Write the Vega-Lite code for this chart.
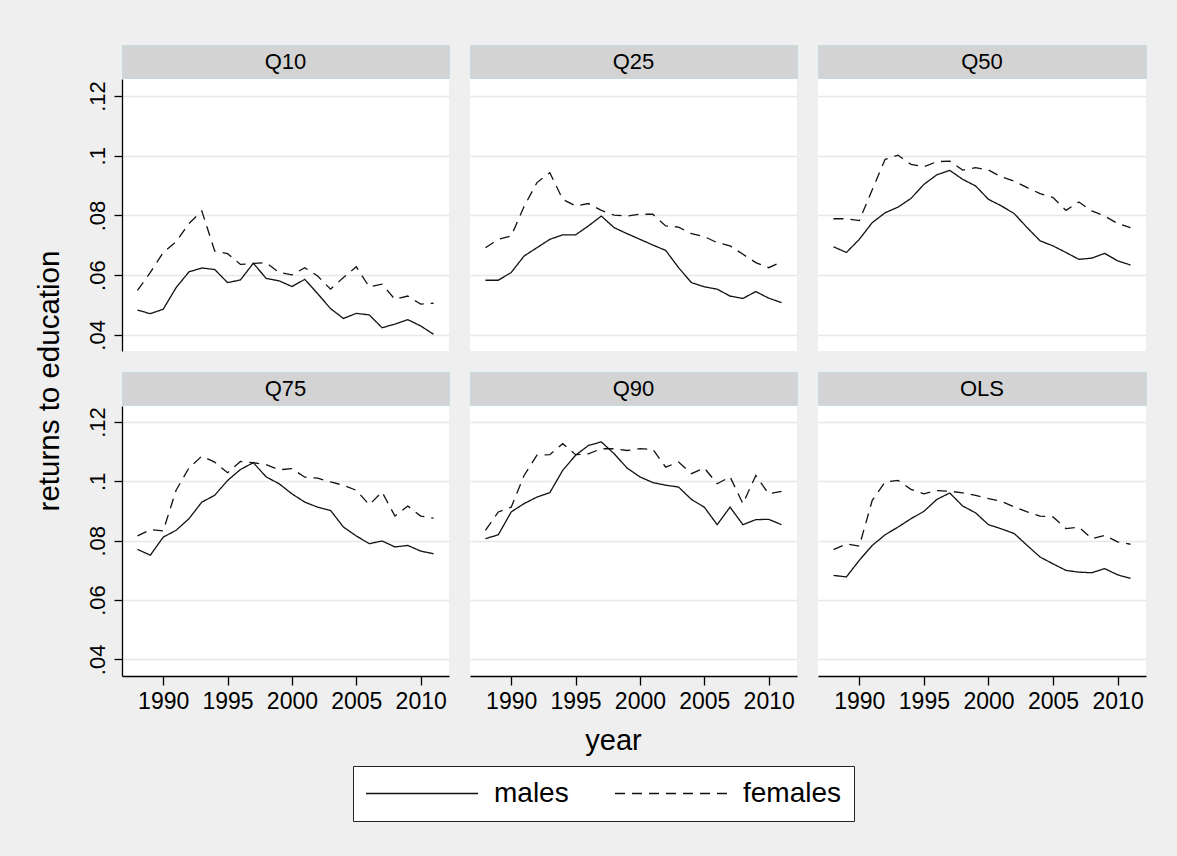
{
  "$schema": "https://vega.github.io/schema/vega-lite/v6.json",
  "background": "#efefef",
  "padding": {"left": 34, "top": 44, "right": 31, "bottom": 35},
  "title": {"text": "returns to education", "orient": "left", "anchor": "middle", "fontSize": 29.5, "fontWeight": "normal", "font": "Liberation Sans", "color": "black", "offset": 21, "dx": 52},
  "datasets": {
    "Q10": [
      {"year":1988,"sex":"males","value":0.0483},{"year":1989,"sex":"males","value":0.0471},{"year":1990,"sex":"males","value":0.0486},{"year":1991,"sex":"males","value":0.0558},{"year":1992,"sex":"males","value":0.0611},{"year":1993,"sex":"males","value":0.0624},{"year":1994,"sex":"males","value":0.0619},{"year":1995,"sex":"males","value":0.0575},{"year":1996,"sex":"males","value":0.0584},{"year":1997,"sex":"males","value":0.0640},{"year":1998,"sex":"males","value":0.0589},{"year":1999,"sex":"males","value":0.0581},{"year":2000,"sex":"males","value":0.0562},{"year":2001,"sex":"males","value":0.0586},{"year":2002,"sex":"males","value":0.0538},{"year":2003,"sex":"males","value":0.0488},{"year":2004,"sex":"males","value":0.0455},{"year":2005,"sex":"males","value":0.0472},{"year":2006,"sex":"males","value":0.0467},{"year":2007,"sex":"males","value":0.0424},{"year":2008,"sex":"males","value":0.0436},{"year":2009,"sex":"males","value":0.0451},{"year":2010,"sex":"males","value":0.0430},{"year":2011,"sex":"males","value":0.0402},
      {"year":1988,"sex":"females","value":0.0549},{"year":1989,"sex":"females","value":0.0609},{"year":1990,"sex":"females","value":0.0676},{"year":1991,"sex":"females","value":0.0712},{"year":1992,"sex":"females","value":0.0773},{"year":1993,"sex":"females","value":0.0815},{"year":1994,"sex":"females","value":0.0681},{"year":1995,"sex":"females","value":0.0672},{"year":1996,"sex":"females","value":0.0636},{"year":1997,"sex":"females","value":0.0639},{"year":1998,"sex":"females","value":0.0642},{"year":1999,"sex":"females","value":0.0609},{"year":2000,"sex":"females","value":0.0601},{"year":2001,"sex":"females","value":0.0625},{"year":2002,"sex":"females","value":0.0597},{"year":2003,"sex":"females","value":0.0553},{"year":2004,"sex":"females","value":0.0592},{"year":2005,"sex":"females","value":0.0628},{"year":2006,"sex":"females","value":0.0561},{"year":2007,"sex":"females","value":0.0570},{"year":2008,"sex":"females","value":0.0519},{"year":2009,"sex":"females","value":0.0530},{"year":2010,"sex":"females","value":0.0503},{"year":2011,"sex":"females","value":0.0506}
    ],
    "Q25": [
      {"year":1988,"sex":"males","value":0.0583},{"year":1989,"sex":"males","value":0.0583},{"year":1990,"sex":"males","value":0.0609},{"year":1991,"sex":"males","value":0.0664},{"year":1992,"sex":"males","value":0.0692},{"year":1993,"sex":"males","value":0.0720},{"year":1994,"sex":"males","value":0.0735},{"year":1995,"sex":"males","value":0.0735},{"year":1996,"sex":"males","value":0.0765},{"year":1997,"sex":"males","value":0.0798},{"year":1998,"sex":"males","value":0.0759},{"year":1999,"sex":"males","value":0.0739},{"year":2000,"sex":"males","value":0.0720},{"year":2001,"sex":"males","value":0.0701},{"year":2002,"sex":"males","value":0.0683},{"year":2003,"sex":"males","value":0.0625},{"year":2004,"sex":"males","value":0.0575},{"year":2005,"sex":"males","value":0.0561},{"year":2006,"sex":"males","value":0.0553},{"year":2007,"sex":"males","value":0.0530},{"year":2008,"sex":"males","value":0.0522},{"year":2009,"sex":"males","value":0.0545},{"year":2010,"sex":"males","value":0.0523},{"year":2011,"sex":"males","value":0.0508},
      {"year":1988,"sex":"females","value":0.0692},{"year":1989,"sex":"females","value":0.0720},{"year":1990,"sex":"females","value":0.0731},{"year":1991,"sex":"females","value":0.0830},{"year":1992,"sex":"females","value":0.0910},{"year":1993,"sex":"females","value":0.0943},{"year":1994,"sex":"females","value":0.0854},{"year":1995,"sex":"females","value":0.0832},{"year":1996,"sex":"females","value":0.0840},{"year":1997,"sex":"females","value":0.0817},{"year":1998,"sex":"females","value":0.0801},{"year":1999,"sex":"females","value":0.0798},{"year":2000,"sex":"females","value":0.0804},{"year":2001,"sex":"females","value":0.0804},{"year":2002,"sex":"females","value":0.0765},{"year":2003,"sex":"females","value":0.0761},{"year":2004,"sex":"females","value":0.0739},{"year":2005,"sex":"females","value":0.0729},{"year":2006,"sex":"females","value":0.0709},{"year":2007,"sex":"females","value":0.0698},{"year":2008,"sex":"females","value":0.0670},{"year":2009,"sex":"females","value":0.0642},{"year":2010,"sex":"females","value":0.0625},{"year":2011,"sex":"females","value":0.0644}
    ],
    "Q50": [
      {"year":1988,"sex":"males","value":0.0695},{"year":1989,"sex":"males","value":0.0676},{"year":1990,"sex":"males","value":0.0720},{"year":1991,"sex":"males","value":0.0776},{"year":1992,"sex":"males","value":0.0809},{"year":1993,"sex":"males","value":0.0828},{"year":1994,"sex":"males","value":0.0857},{"year":1995,"sex":"males","value":0.0904},{"year":1996,"sex":"males","value":0.0936},{"year":1997,"sex":"males","value":0.0951},{"year":1998,"sex":"males","value":0.0921},{"year":1999,"sex":"males","value":0.0899},{"year":2000,"sex":"males","value":0.0854},{"year":2001,"sex":"males","value":0.0832},{"year":2002,"sex":"males","value":0.0806},{"year":2003,"sex":"males","value":0.0759},{"year":2004,"sex":"males","value":0.0715},{"year":2005,"sex":"males","value":0.0698},{"year":2006,"sex":"males","value":0.0676},{"year":2007,"sex":"males","value":0.0653},{"year":2008,"sex":"males","value":0.0657},{"year":2009,"sex":"males","value":0.0673},{"year":2010,"sex":"males","value":0.0648},{"year":2011,"sex":"males","value":0.0634},
      {"year":1988,"sex":"females","value":0.0789},{"year":1989,"sex":"females","value":0.0789},{"year":1990,"sex":"females","value":0.0783},{"year":1991,"sex":"females","value":0.0886},{"year":1992,"sex":"females","value":0.0988},{"year":1993,"sex":"females","value":0.1002},{"year":1994,"sex":"females","value":0.0971},{"year":1995,"sex":"females","value":0.0963},{"year":1996,"sex":"females","value":0.0980},{"year":1997,"sex":"females","value":0.0982},{"year":1998,"sex":"females","value":0.0952},{"year":1999,"sex":"females","value":0.0960},{"year":2000,"sex":"females","value":0.0952},{"year":2001,"sex":"females","value":0.0929},{"year":2002,"sex":"females","value":0.0915},{"year":2003,"sex":"females","value":0.0893},{"year":2004,"sex":"females","value":0.0873},{"year":2005,"sex":"females","value":0.0860},{"year":2006,"sex":"females","value":0.0817},{"year":2007,"sex":"females","value":0.0845},{"year":2008,"sex":"females","value":0.0815},{"year":2009,"sex":"females","value":0.0798},{"year":2010,"sex":"females","value":0.0773},{"year":2011,"sex":"females","value":0.0759}
    ],
    "Q75": [
      {"year":1988,"sex":"males","value":0.0771},{"year":1989,"sex":"males","value":0.0751},{"year":1990,"sex":"males","value":0.0812},{"year":1991,"sex":"males","value":0.0835},{"year":1992,"sex":"males","value":0.0874},{"year":1993,"sex":"males","value":0.0930},{"year":1994,"sex":"males","value":0.0953},{"year":1995,"sex":"males","value":0.1003},{"year":1996,"sex":"males","value":0.1040},{"year":1997,"sex":"males","value":0.1063},{"year":1998,"sex":"males","value":0.1015},{"year":1999,"sex":"males","value":0.0992},{"year":2000,"sex":"males","value":0.0958},{"year":2001,"sex":"males","value":0.0930},{"year":2002,"sex":"males","value":0.0913},{"year":2003,"sex":"males","value":0.0902},{"year":2004,"sex":"males","value":0.0846},{"year":2005,"sex":"males","value":0.0816},{"year":2006,"sex":"males","value":0.0790},{"year":2007,"sex":"males","value":0.0799},{"year":2008,"sex":"males","value":0.0779},{"year":2009,"sex":"males","value":0.0784},{"year":2010,"sex":"males","value":0.0765},{"year":2011,"sex":"males","value":0.0756},
      {"year":1988,"sex":"females","value":0.0816},{"year":1989,"sex":"females","value":0.0837},{"year":1990,"sex":"females","value":0.0833},{"year":1991,"sex":"females","value":0.0970},{"year":1992,"sex":"females","value":0.1045},{"year":1993,"sex":"females","value":0.1085},{"year":1994,"sex":"females","value":0.1065},{"year":1995,"sex":"females","value":0.1029},{"year":1996,"sex":"females","value":0.1067},{"year":1997,"sex":"females","value":0.1063},{"year":1998,"sex":"females","value":0.1056},{"year":1999,"sex":"females","value":0.1039},{"year":2000,"sex":"females","value":0.1043},{"year":2001,"sex":"females","value":0.1014},{"year":2002,"sex":"females","value":0.1011},{"year":2003,"sex":"females","value":0.0998},{"year":2004,"sex":"females","value":0.0987},{"year":2005,"sex":"females","value":0.0970},{"year":2006,"sex":"females","value":0.0921},{"year":2007,"sex":"females","value":0.0964},{"year":2008,"sex":"females","value":0.0883},{"year":2009,"sex":"females","value":0.0917},{"year":2010,"sex":"females","value":0.0883},{"year":2011,"sex":"females","value":0.0876}
    ],
    "Q90": [
      {"year":1988,"sex":"males","value":0.0807},{"year":1989,"sex":"males","value":0.0820},{"year":1990,"sex":"males","value":0.0897},{"year":1991,"sex":"males","value":0.0925},{"year":1992,"sex":"males","value":0.0947},{"year":1993,"sex":"males","value":0.0962},{"year":1994,"sex":"males","value":0.1037},{"year":1995,"sex":"males","value":0.1088},{"year":1996,"sex":"males","value":0.1121},{"year":1997,"sex":"males","value":0.1133},{"year":1998,"sex":"males","value":0.1093},{"year":1999,"sex":"males","value":0.1045},{"year":2000,"sex":"males","value":0.1015},{"year":2001,"sex":"males","value":0.0996},{"year":2002,"sex":"males","value":0.0987},{"year":2003,"sex":"males","value":0.0981},{"year":2004,"sex":"males","value":0.0939},{"year":2005,"sex":"males","value":0.0913},{"year":2006,"sex":"males","value":0.0854},{"year":2007,"sex":"males","value":0.0913},{"year":2008,"sex":"males","value":0.0854},{"year":2009,"sex":"males","value":0.0871},{"year":2010,"sex":"males","value":0.0872},{"year":2011,"sex":"males","value":0.0854},
      {"year":1988,"sex":"females","value":0.0835},{"year":1989,"sex":"females","value":0.0897},{"year":1990,"sex":"females","value":0.0913},{"year":1991,"sex":"females","value":0.1020},{"year":1992,"sex":"females","value":0.1088},{"year":1993,"sex":"females","value":0.1090},{"year":1994,"sex":"females","value":0.1127},{"year":1995,"sex":"females","value":0.1090},{"year":1996,"sex":"females","value":0.1093},{"year":1997,"sex":"females","value":0.1110},{"year":1998,"sex":"females","value":0.1110},{"year":1999,"sex":"females","value":0.1104},{"year":2000,"sex":"females","value":0.1110},{"year":2001,"sex":"females","value":0.1108},{"year":2002,"sex":"females","value":0.1048},{"year":2003,"sex":"females","value":0.1065},{"year":2004,"sex":"females","value":0.1026},{"year":2005,"sex":"females","value":0.1045},{"year":2006,"sex":"females","value":0.0992},{"year":2007,"sex":"females","value":0.1015},{"year":2008,"sex":"females","value":0.0925},{"year":2009,"sex":"females","value":0.1020},{"year":2010,"sex":"females","value":0.0958},{"year":2011,"sex":"females","value":0.0966}
    ],
    "OLS": [
      {"year":1988,"sex":"males","value":0.0683},{"year":1989,"sex":"males","value":0.0678},{"year":1990,"sex":"males","value":0.0734},{"year":1991,"sex":"males","value":0.0784},{"year":1992,"sex":"males","value":0.0820},{"year":1993,"sex":"males","value":0.0846},{"year":1994,"sex":"males","value":0.0874},{"year":1995,"sex":"males","value":0.0899},{"year":1996,"sex":"males","value":0.0939},{"year":1997,"sex":"males","value":0.0961},{"year":1998,"sex":"males","value":0.0917},{"year":1999,"sex":"males","value":0.0894},{"year":2000,"sex":"males","value":0.0854},{"year":2001,"sex":"males","value":0.0840},{"year":2002,"sex":"males","value":0.0824},{"year":2003,"sex":"males","value":0.0784},{"year":2004,"sex":"males","value":0.0745},{"year":2005,"sex":"males","value":0.0722},{"year":2006,"sex":"males","value":0.0700},{"year":2007,"sex":"males","value":0.0694},{"year":2008,"sex":"males","value":0.0692},{"year":2009,"sex":"males","value":0.0706},{"year":2010,"sex":"males","value":0.0685},{"year":2011,"sex":"males","value":0.0673},
      {"year":1988,"sex":"females","value":0.0770},{"year":1989,"sex":"females","value":0.0789},{"year":1990,"sex":"females","value":0.0782},{"year":1991,"sex":"females","value":0.0936},{"year":1992,"sex":"females","value":0.0998},{"year":1993,"sex":"females","value":0.1003},{"year":1994,"sex":"females","value":0.0973},{"year":1995,"sex":"females","value":0.0958},{"year":1996,"sex":"females","value":0.0969},{"year":1997,"sex":"females","value":0.0967},{"year":1998,"sex":"females","value":0.0961},{"year":1999,"sex":"females","value":0.0953},{"year":2000,"sex":"females","value":0.0942},{"year":2001,"sex":"females","value":0.0933},{"year":2002,"sex":"females","value":0.0914},{"year":2003,"sex":"females","value":0.0897},{"year":2004,"sex":"females","value":0.0883},{"year":2005,"sex":"females","value":0.0880},{"year":2006,"sex":"females","value":0.0841},{"year":2007,"sex":"females","value":0.0846},{"year":2008,"sex":"females","value":0.0807},{"year":2009,"sex":"females","value":0.0818},{"year":2010,"sex":"females","value":0.0796},{"year":2011,"sex":"females","value":0.0788}
    ]
  },
  "spacing": 20,
  "vconcat": [
    {
      "spacing": 19,
      "hconcat": [
        {"spacing": 0, "vconcat": [
          {"data": {"values": [{"panel": "Q10"}]}, "width": 327, "height": 33, "view": {"fill": "#d3d3d3", "stroke": "#c4dbe2"}, "mark": {"type": "text", "fontSize": 22, "font": "Liberation Sans", "color": "black"}, "encoding": {"text": {"field": "panel"}}},
          {"data": {"name": "Q10"}, "width": 327, "height": 272, "view": {"fill": "white", "stroke": null},
           "mark": {"type": "line", "color": "#111111", "strokeWidth": 1.3},
           "encoding": {
             "x": {"field": "year", "type": "quantitative", "scale": {"domain": [1986.8, 2012.2], "nice": false, "zero": false}, "axis": null},
             "y": {"field": "value", "type": "quantitative", "scale": {"domain": [0.0346, 0.1257], "nice": false, "zero": false},
                   "axis": {"values": [0.04, 0.06, 0.08, 0.1, 0.12], "labelExpr": "replace(format(datum.value, '.2~f'), '0.', '.')", "labelAngle": 270, "labelFontSize": 22, "labelFont": "Liberation Sans", "labelColor": "black", "domainColor": "black", "domainWidth": 1.3, "tickColor": "black", "tickSize": 8, "tickWidth": 1.3, "labelPadding": 5, "grid": true, "gridColor": "#e8e8e8", "gridWidth": 1.5, "title": null}},
             "strokeDash": {"field": "sex", "type": "nominal", "scale": {"domain": ["males", "females"], "range": [[1, 0], [10, 7]]},
                   "legend": {"orient": "none", "legendX": 231, "legendY": 721, "direction": "horizontal", "title": null, "fillColor": "white", "strokeColor": "#222222", "padding": 12, "symbolType": "stroke", "symbolSize": 12544, "symbolStrokeWidth": 1.6, "symbolStrokeColor": "black", "clipHeight": 31, "labelFontSize": 28, "labelFont": "Liberation Sans", "labelColor": "black", "labelOffset": 15, "columnPadding": 45, "cornerRadius": 0}}
           }}
        ]},
        {"spacing": 0, "vconcat": [
          {"data": {"values": [{"panel": "Q25"}]}, "width": 327, "height": 33, "view": {"fill": "#d3d3d3", "stroke": "#c4dbe2"}, "mark": {"type": "text", "fontSize": 22, "font": "Liberation Sans", "color": "black"}, "encoding": {"text": {"field": "panel"}}},
          {"data": {"name": "Q25"}, "width": 327, "height": 272, "view": {"fill": "white", "stroke": null},
           "mark": {"type": "line", "color": "#111111", "strokeWidth": 1.3},
           "encoding": {
             "x": {"field": "year", "type": "quantitative", "scale": {"domain": [1986.8, 2012.2], "nice": false, "zero": false}, "axis": null},
             "y": {"field": "value", "type": "quantitative", "scale": {"domain": [0.0346, 0.1257], "nice": false, "zero": false},
                   "axis": {"values": [0.04, 0.06, 0.08, 0.1, 0.12], "labels": false, "ticks": false, "domain": false, "grid": true, "gridColor": "#e8e8e8", "gridWidth": 1.5, "title": null}},
             "strokeDash": {"field": "sex", "type": "nominal", "scale": {"domain": ["males", "females"], "range": [[1, 0], [10, 7]]}}
           }}
        ]},
        {"spacing": 0, "vconcat": [
          {"data": {"values": [{"panel": "Q50"}]}, "width": 328, "height": 33, "view": {"fill": "#d3d3d3", "stroke": "#c4dbe2"}, "mark": {"type": "text", "fontSize": 22, "font": "Liberation Sans", "color": "black"}, "encoding": {"text": {"field": "panel"}}},
          {"data": {"name": "Q50"}, "width": 328, "height": 272, "view": {"fill": "white", "stroke": null},
           "mark": {"type": "line", "color": "#111111", "strokeWidth": 1.3},
           "encoding": {
             "x": {"field": "year", "type": "quantitative", "scale": {"domain": [1986.8, 2012.2], "nice": false, "zero": false}, "axis": null},
             "y": {"field": "value", "type": "quantitative", "scale": {"domain": [0.0346, 0.1257], "nice": false, "zero": false},
                   "axis": {"values": [0.04, 0.06, 0.08, 0.1, 0.12], "labels": false, "ticks": false, "domain": false, "grid": true, "gridColor": "#e8e8e8", "gridWidth": 1.5, "title": null}},
             "strokeDash": {"field": "sex", "type": "nominal", "scale": {"domain": ["males", "females"], "range": [[1, 0], [10, 7]]}}
           }}
        ]}
      ]
    },
    {
      "spacing": 19,
      "hconcat": [
        {"spacing": 0, "vconcat": [
          {"data": {"values": [{"panel": "Q75"}]}, "width": 327, "height": 33, "view": {"fill": "#d3d3d3", "stroke": "#c4dbe2"}, "mark": {"type": "text", "fontSize": 22, "font": "Liberation Sans", "color": "black"}, "encoding": {"text": {"field": "panel"}}},
          {"data": {"name": "Q75"}, "width": 327, "height": 270, "view": {"fill": "white", "stroke": null},
           "mark": {"type": "line", "color": "#111111", "strokeWidth": 1.3},
           "encoding": {
             "x": {"field": "year", "type": "quantitative", "scale": {"domain": [1986.8, 2012.2], "nice": false, "zero": false},
                   "axis": {"values": [1990, 1995, 2000, 2005, 2010], "format": "d", "labelFontSize": 23, "labelFont": "Liberation Sans", "labelColor": "black", "domainColor": "black", "domainWidth": 1.3, "tickColor": "black", "tickSize": 9, "tickWidth": 1.3, "labelPadding": 5, "grid": false, "title": null}},
             "y": {"field": "value", "type": "quantitative", "scale": {"domain": [0.0344, 0.1254], "nice": false, "zero": false},
                   "axis": {"values": [0.04, 0.06, 0.08, 0.1, 0.12], "labelExpr": "replace(format(datum.value, '.2~f'), '0.', '.')", "labelAngle": 270, "labelFontSize": 22, "labelFont": "Liberation Sans", "labelColor": "black", "domainColor": "black", "domainWidth": 1.3, "tickColor": "black", "tickSize": 8, "tickWidth": 1.3, "labelPadding": 5, "grid": true, "gridColor": "#e8e8e8", "gridWidth": 1.5, "title": null}},
             "strokeDash": {"field": "sex", "type": "nominal", "scale": {"domain": ["males", "females"], "range": [[1, 0], [10, 7]]}}
           }}
        ]},
        {"spacing": 0, "vconcat": [
          {"data": {"values": [{"panel": "Q90"}]}, "width": 327, "height": 33, "view": {"fill": "#d3d3d3", "stroke": "#c4dbe2"}, "mark": {"type": "text", "fontSize": 22, "font": "Liberation Sans", "color": "black"}, "encoding": {"text": {"field": "panel"}}},
          {"data": {"name": "Q90"}, "width": 327, "height": 270, "view": {"fill": "white", "stroke": null},
           "mark": {"type": "line", "color": "#111111", "strokeWidth": 1.3},
           "encoding": {
             "x": {"field": "year", "type": "quantitative", "scale": {"domain": [1986.8, 2012.2], "nice": false, "zero": false},
                   "axis": {"values": [1990, 1995, 2000, 2005, 2010], "format": "d", "labelFontSize": 23, "labelFont": "Liberation Sans", "labelColor": "black", "domainColor": "black", "domainWidth": 1.3, "tickColor": "black", "tickSize": 9, "tickWidth": 1.3, "labelPadding": 5, "grid": false, "title": "year", "titleFontSize": 29, "titleFontWeight": "normal", "titleFont": "Liberation Sans", "titleColor": "black", "titlePadding": 13, "titleX": 143}},
             "y": {"field": "value", "type": "quantitative", "scale": {"domain": [0.0344, 0.1254], "nice": false, "zero": false},
                   "axis": {"values": [0.04, 0.06, 0.08, 0.1, 0.12], "labels": false, "ticks": false, "domain": false, "grid": true, "gridColor": "#e8e8e8", "gridWidth": 1.5, "title": null}},
             "strokeDash": {"field": "sex", "type": "nominal", "scale": {"domain": ["males", "females"], "range": [[1, 0], [10, 7]]}}
           }}
        ]},
        {"spacing": 0, "vconcat": [
          {"data": {"values": [{"panel": "OLS"}]}, "width": 328, "height": 33, "view": {"fill": "#d3d3d3", "stroke": "#c4dbe2"}, "mark": {"type": "text", "fontSize": 22, "font": "Liberation Sans", "color": "black"}, "encoding": {"text": {"field": "panel"}}},
          {"data": {"name": "OLS"}, "width": 328, "height": 270, "view": {"fill": "white", "stroke": null},
           "mark": {"type": "line", "color": "#111111", "strokeWidth": 1.3},
           "encoding": {
             "x": {"field": "year", "type": "quantitative", "scale": {"domain": [1986.8, 2012.2], "nice": false, "zero": false},
                   "axis": {"values": [1990, 1995, 2000, 2005, 2010], "format": "d", "labelFontSize": 23, "labelFont": "Liberation Sans", "labelColor": "black", "domainColor": "black", "domainWidth": 1.3, "tickColor": "black", "tickSize": 9, "tickWidth": 1.3, "labelPadding": 5, "grid": false, "title": null}},
             "y": {"field": "value", "type": "quantitative", "scale": {"domain": [0.0344, 0.1254], "nice": false, "zero": false},
                   "axis": {"values": [0.04, 0.06, 0.08, 0.1, 0.12], "labels": false, "ticks": false, "domain": false, "grid": true, "gridColor": "#e8e8e8", "gridWidth": 1.5, "title": null}},
             "strokeDash": {"field": "sex", "type": "nominal", "scale": {"domain": ["males", "females"], "range": [[1, 0], [10, 7]]}}
           }}
        ]}
      ]
    }
  ],
  "config": {"view": {"stroke": null}, "font": "Liberation Sans"}
}
